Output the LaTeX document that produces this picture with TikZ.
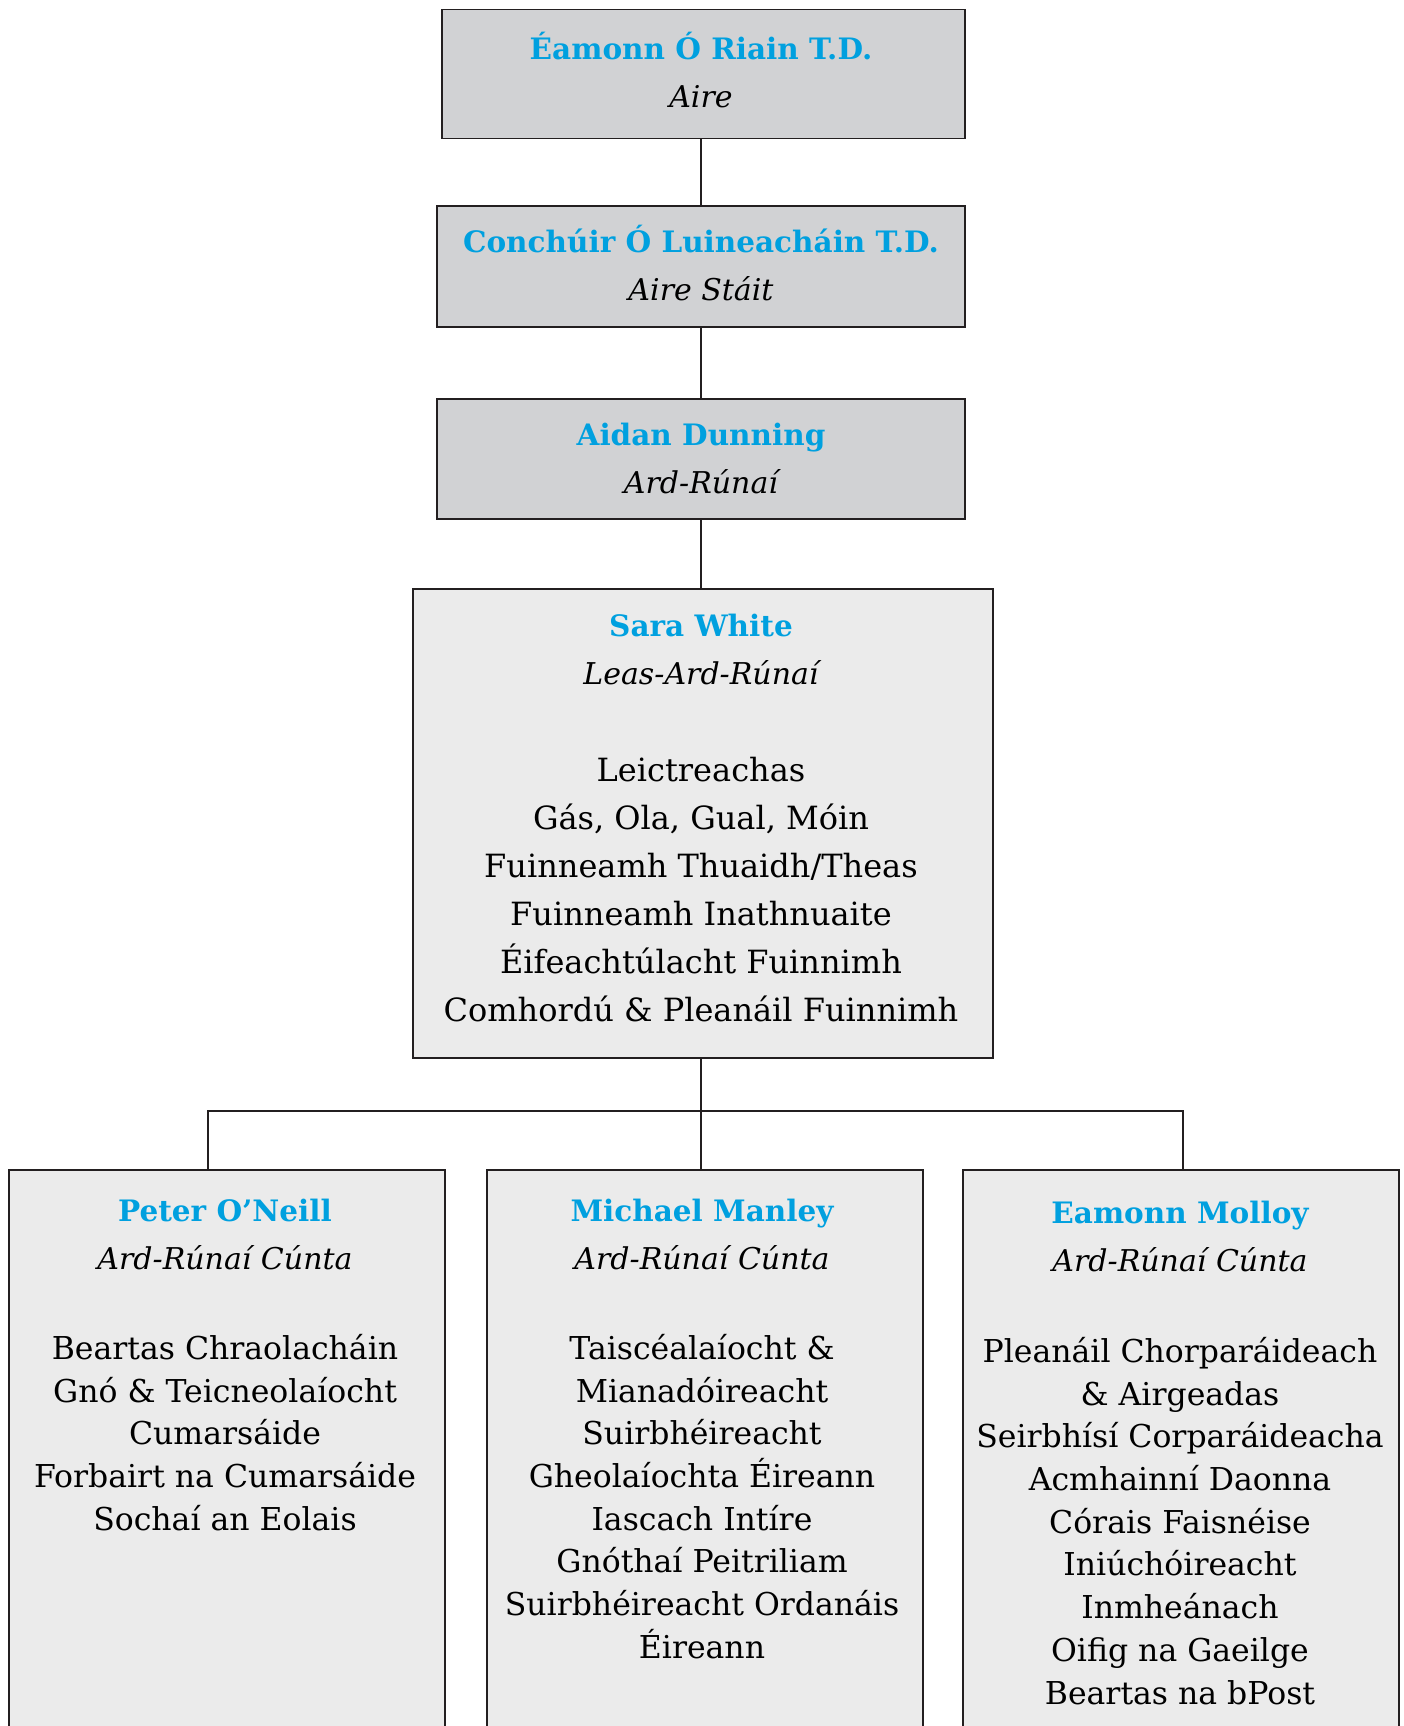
\documentclass[tikz,border=0pt]{standalone}
\usepackage{fontspec}
\setmainfont{DejaVu Serif}
\definecolor{nameblue}{RGB}{0,160,223}
\definecolor{topgray}{RGB}{209,210,212}
\definecolor{lowgray}{RGB}{235,235,235}
\definecolor{edge}{RGB}{35,31,32}
\tikzset{
  topbox/.style={draw=edge, line width=1.5pt, fill=topgray, anchor=north west, inner sep=0pt},
  lowbox/.style={draw=edge, line width=1.5pt, fill=lowgray, anchor=north west, inner sep=0pt},
  wire/.style={draw=edge, line width=2pt},
  nm/.style={font=\fontsize{29.5}{34}\selectfont\bfseries, text=nameblue, inner sep=0pt, text height=22pt, text depth=7pt},
  rl/.style={font=\fontsize{30}{34}\selectfont\itshape, text=black, inner sep=0pt, text height=22pt, text depth=7pt},
  lst/.style={font=\fontsize{32}{48}\selectfont, align=center, text=black, inner sep=0pt, anchor=north},
  lstb/.style={font=\fontsize{31.5}{42.7}\selectfont, align=center, text=black, inner sep=0pt, anchor=north},
}
\begin{document}
\begin{tikzpicture}[x=1pt,y=-1pt]
\useasboundingbox (0,0) rectangle (1403,1726);
\clip (0,0) rectangle (1403,1726);
% boxes
\node[topbox, minimum width=523, minimum height=129] (b1) at (441,9) {};
\node[topbox, minimum width=528, minimum height=121] (b2) at (436,205) {};
\node[topbox, minimum width=528, minimum height=120] (b3) at (436,398) {};
\node[lowbox, minimum width=580, minimum height=469] (b4) at (412,588) {};
\node[lowbox, minimum width=436, minimum height=620] (b5) at (8,1169) {};
\node[lowbox, minimum width=436, minimum height=620] (b6) at (486,1169) {};
\node[lowbox, minimum width=436, minimum height=620] (b7) at (962,1169) {};
% connectors
\coordinate (spine) at (701,0);
\coordinate (jl) at (208,1111);
\coordinate (jr) at (1183,1111);
\draw[wire] (spine |- b1.south) -- (spine |- b2.north);
\draw[wire] (spine |- b2.south) -- (spine |- b3.north);
\draw[wire] (spine |- b3.south) -- (spine |- b4.north);
\draw[wire] (spine |- b4.south) -- (spine |- b6.north);
\draw[wire] (jl |- b5.north) -- (jl) -- (jr) -- (jr |- b7.north);
% texts
\node[nm] (t1) at (701,52) {Éamonn Ó Riain T.D.};
\node[rl] (r1) at (701,100) {Aire};
\node[nm] (t2) at (701,245) {Conchúir Ó Luineacháin T.D.};
\node[rl] (r2) at (701,293) {Aire Stáit};
\node[nm] (t3) at (701,438) {Aidan Dunning};
\node[rl] (r3) at (701,486) {Ard-Rúnaí};
\node[nm] (t4) at (701,629) {Sara White};
\node[rl] (r4) at (701,677) {Leas-Ard-Rúnaí};
\node[lst] (l4) at (701,757) {Leictreachas\\Gás, Ola, Gual, Móin\\Fuinneamh Thuaidh/Theas\\Fuinneamh Inathnuaite\\Éifeachtúlacht Fuinnimh\\Comhordú \& Pleanáil Fuinnimh};
\node[nm] (t5) at (225,1214) {Peter O’Neill};
\node[rl] (r5) at (225,1262) {Ard-Rúnaí Cúnta};
\node[lstb] (l5) at (225,1334) {Beartas Chraolacháin\\Gnó \& Teicneolaíocht\\Cumarsáide\\Forbairt na Cumarsáide\\Sochaí an Eolais};
\node[nm] (t6) at (702,1214) {Michael Manley};
\node[rl] (r6) at (702,1262) {Ard-Rúnaí Cúnta};
\node[lstb] (l6) at (702,1334) {Taiscéalaíocht \&\\Mianadóireacht\\Suirbhéireacht\\Gheolaíochta Éireann\\Iascach Intíre\\Gnóthaí Peitriliam\\Suirbhéireacht Ordanáis\\Éireann};
\node[nm] (t7) at (1180,1216) {Eamonn Molloy};
\node[rl] (r7) at (1180,1264) {Ard-Rúnaí Cúnta};
\node[lstb] (l7) at (1180,1337) {Pleanáil Chorparáideach\\\& Airgeadas\\Seirbhísí Corparáideacha\\Acmhainní Daonna\\Córais Faisnéise\\Iniúchóireacht\\Inmheánach\\Oifig na Gaeilge\\Beartas na bPost};
\end{tikzpicture}
\end{document}
